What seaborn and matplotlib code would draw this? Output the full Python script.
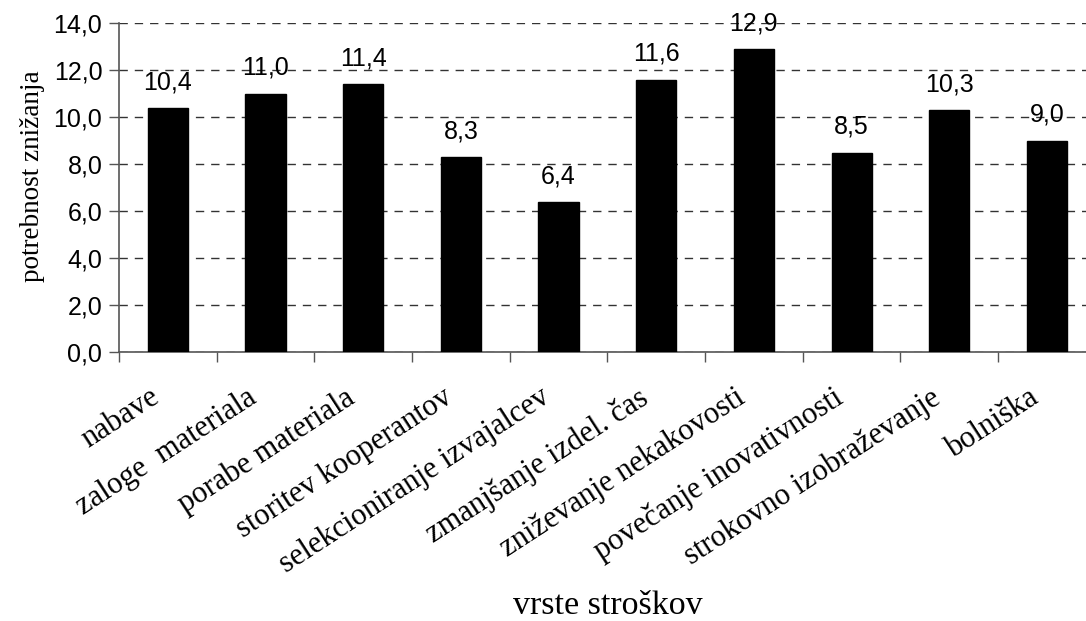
import matplotlib
matplotlib.use("Agg")
import matplotlib.pyplot as plt
import matplotlib.transforms as mtransforms
import seaborn as sns
import pandas as pd
from matplotlib.ticker import FixedLocator, FuncFormatter

categories = ["nabave", "zaloge  materiala", "porabe materiala", "storitev kooperantov",
              "selekcioniranje izvajalcev", "zmanjšanje izdel. čas", "zniževanje nekakovosti",
              "povečanje inovativnosti", "strokovno izobraževanje", "bolniška"]
values = [10.4, 11.0, 11.4, 8.3, 6.4, 11.6, 12.9, 8.5, 10.3, 9.0]
y_ticks = [0, 2, 4, 6, 8, 10, 12, 14]

df = pd.DataFrame({"cat": categories, "val": values})

sns.set_style("white")
plt.rcParams["font.family"] = ["Liberation Sans", "DejaVu Sans"]
plt.rcParams["text.color"] = "black"
plt.rcParams["xtick.color"] = "#555555"
plt.rcParams["ytick.color"] = "#555555"
plt.rcParams["xtick.labelcolor"] = "black"
plt.rcParams["ytick.labelcolor"] = "black"
plt.rcParams["axes.labelcolor"] = "black"

fig = plt.figure(figsize=(10.86, 6.21), dpi=100)
ax = fig.add_axes([119 / 1086, 1 - 352.3 / 621, (1095.7 - 119) / 1086, (352.3 - 23.3) / 621])

sns.barplot(data=df, x="cat", y="val", color="black", width=0.41, saturation=1,
            edgecolor="black", ax=ax, zorder=3)

ax.set_xlim(-0.5, len(categories) - 0.5)
ax.set_ylim(0, 14)
ax.yaxis.set_major_locator(FixedLocator(y_ticks))
ax.yaxis.set_major_formatter(FuncFormatter(lambda v, p: f"{v:.1f}".replace(".", ",")))
ax.tick_params(axis="y", which="major", length=7, width=1,
               labelsize=18, pad=5, direction="out", left=True)

# category boundary ticks (major) and centred labels (minor)
ax.xaxis.set_major_locator(FixedLocator([i - 0.5 for i in range(len(categories) + 1)]))
ax.xaxis.set_minor_locator(FixedLocator(list(range(len(categories)))))
ax.set_xticklabels([""] * (len(categories) + 1))
ax.set_xticklabels(categories, minor=True, rotation=33, ha="right", va="top",
                   rotation_mode="anchor", family=["Liberation Serif", "DejaVu Serif"],
                   fontsize=22)
ax.tick_params(axis="x", which="major", length=7, width=1, direction="out", bottom=True)
ax.tick_params(axis="x", which="minor", length=0, pad=22)
offset = mtransforms.ScaledTranslation(-19 / 100, 0, fig.dpi_scale_trans)
for lbl in ax.xaxis.get_minorticklabels():
    lbl.set_transform(lbl.get_transform() + offset)

ax.grid(axis="y", linestyle=(0, (6, 5)), color="#333333", linewidth=1, zorder=0)
ax.grid(axis="x", visible=False)
for s in ["top", "right"]:
    ax.spines[s].set_visible(False)
for s in ["left", "bottom"]:
    ax.spines[s].set_color("#555555")
    ax.spines[s].set_linewidth(1.2)

ax.bar_label(ax.containers[0], labels=[f"{v:.1f}".replace(".", ",") for v in values],
             padding=10, fontsize=18, color="black")

ax.set_xlabel("vrste stroškov", family=["Liberation Serif", "DejaVu Serif"], fontsize=24.5,
              labelpad=0)
ax.set_ylabel("potrebnost znižanja", family=["Liberation Serif", "DejaVu Serif"], fontsize=19.5,
              labelpad=0)
ax.xaxis.set_label_coords(0.5, -(590 - 352.3) / 329)
ax.yaxis.set_label_coords(-(119 - 45) / (1095.7 - 119), (352.3 - 176) / 329)

fig.savefig("out.png", dpi=100)
